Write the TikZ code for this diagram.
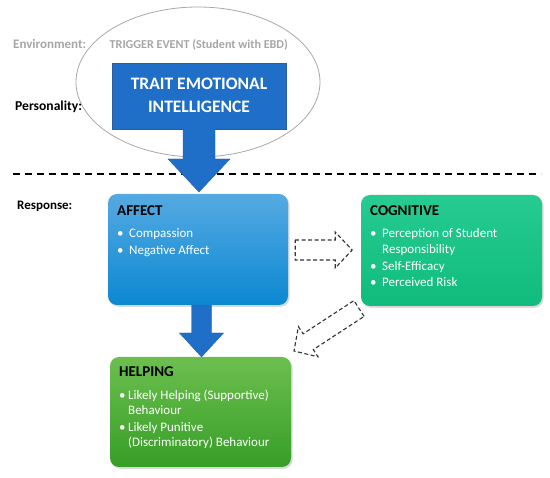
\documentclass[tikz,border=0pt]{standalone}
\usepackage{fontspec}
\setmainfont{Carlito}
\usetikzlibrary{shadows,calc}
\definecolor{envgray}{HTML}{A6A6A6}
\definecolor{ellgray}{HTML}{A8A8A8}
\definecolor{teiblue}{HTML}{1F6FC9}
\definecolor{teiedge}{HTML}{2A5E9E}
\definecolor{afftop}{HTML}{55AAE2}
\definecolor{affbot}{HTML}{0B88D2}
\definecolor{cogtop}{HTML}{26CB92}
\definecolor{cogbot}{HTML}{10BB7C}
\definecolor{heltop}{HTML}{6CBF4E}
\definecolor{helbot}{HTML}{379E27}
\definecolor{dashgray}{HTML}{333333}
\tikzset{
  lbl/.style={font=\bfseries\fontsize{13}{15}\selectfont, anchor=base west, inner sep=0pt},
  box/.style={rounded corners=9pt, inner sep=0pt, drop shadow={opacity=0.3, shadow xshift=1.5pt, shadow yshift=-1.8pt}},
  ttl/.style={font=\bfseries\fontsize{15}{17}\selectfont, anchor=base west, inner sep=0pt},
  itm/.style={font=\fontsize{13}{15}\selectfont, text=white, anchor=base west, inner sep=0pt},
  blk/.style={fill=teiblue, draw=teiedge, line width=0.4pt},
  dsh/.style={draw=dashgray, line width=1.1pt, dash pattern=on 4pt off 2.5pt, line join=miter}
}
\begin{document}
\begin{tikzpicture}[x=1pt,y=-1pt]
\useasboundingbox (0,0) rectangle (550,478);
% ellipse
\draw[ellgray, line width=0.8pt] (198,82) ellipse [x radius=122, y radius=75];
% labels
\node[lbl, text=envgray] (env) at (13,49) {Environment:};
\node[lbl, text=envgray, font=\bfseries\fontsize{12.1}{14}\selectfont] (trig) at (109.5,49) {TRIGGER EVENT (Student with EBD)};
\node[lbl, font=\bfseries\fontsize{13.6}{15}\selectfont] (pers) at (15,111) {Personality:};
\node[lbl] (resp) at (17,210) {Response:};
% dashed separator
\draw[black, line width=1.6pt, dash pattern=on 7pt off 5pt] (13,174) -- (541,174);
% boxes
\node[box, minimum width=180pt, minimum height=111pt, top color=afftop, bottom color=affbot] (affect) at (198,249.5) {};
\node[box, minimum width=181pt, minimum height=111pt, top color=cogtop, bottom color=cogbot] (cog) at (451.5,250.5) {};
\node[box, minimum width=181pt, minimum height=110pt, top color=heltop, bottom color=helbot] (help) at (200.5,412) {};
% TEI block
\node[blk, minimum width=174pt, minimum height=66pt, inner sep=0pt] (tei) at (199,96) {};
\coordinate (t1) at (199,192);
\fill[teiblue] ($(t1)+(-16,-63.5)$) -- ($(t1)+(16,-63.5)$) -- ($(t1)+(16,-33)$) -- ($(t1)+(31,-33)$) -- (t1) -- ($(t1)+(-31,-33)$) -- ($(t1)+(-16,-33)$) -- cycle;
\draw[teiedge, line width=0.4pt] ($(t1)+(-16,-63)$) -- ($(t1)+(-16,-33)$) -- ($(t1)+(-31,-33)$) -- (t1) -- ($(t1)+(31,-33)$) -- ($(t1)+(16,-33)$) -- ($(t1)+(16,-63)$);
\node[font=\bfseries\fontsize{17.5}{20}\selectfont, text=white, anchor=base, inner sep=0pt] (tei1) at (199,89.5) {TRAIT EMOTIONAL};
\node[font=\bfseries\fontsize{17.5}{20}\selectfont, text=white, anchor=base, inner sep=0pt] (tei2) at (199,113) {INTELLIGENCE};
% affect -> helping arrow
\coordinate (t2) at (201.5,357);
\fill[teiblue] ($(t2)+(-10,-52)$) -- ($(t2)+(10,-52)$) -- ($(t2)+(10,-24)$) -- ($(t2)+(22,-24)$) -- (t2) -- ($(t2)+(-22,-24)$) -- ($(t2)+(-10,-24)$) -- cycle;
\draw[teiedge, line width=0.4pt] ($(t2)+(-10,-52)$) -- ($(t2)+(-10,-24)$) -- ($(t2)+(-22,-24)$) -- (t2) -- ($(t2)+(22,-24)$) -- ($(t2)+(10,-24)$) -- ($(t2)+(10,-52)$);
% affect -> cognitive dashed arrow
\coordinate (ra) at ($(affect.east)+(7,0.5)$);
\draw[dsh] ($(ra)+(0,-10)$) -- ($(ra)+(40,-10)$) -- ($(ra)+(40,-18)$) -- ($(ra)+(57,0)$) -- ($(ra)+(40,18)$) -- ($(ra)+(40,10)$) -- ($(ra)+(0,10)$) -- cycle;
% cognitive -> helping dashed arrow
\coordinate (da) at (359,308.5);
\draw[dsh] ($(da)+(5.1,7.9)$) -- ($(da)+(-5.1,-7.9)$) -- ($(da)+(-55.9,25.3)$) -- ($(da)+(-60.6,18.1)$) -- ($(da)+(-65,42.5)$) -- ($(da)+(-41,48.3)$) -- ($(da)+(-45.7,41.1)$) -- cycle;
% AFFECT text
\node[ttl] (afft) at (117,216) {AFFECT};
\node[itm] (ab1) at (117,238) {\textbullet};
\node[itm] (a1) at (129,238) {Compassion};
\node[itm] (ab2) at (117,255) {\textbullet};
\node[itm] (a2) at (129,255) {Negative Affect};
% COGNITIVE text
\node[ttl] (cogt) at (370,216) {COGNITIVE};
\node[itm] (cb1) at (370,238) {\textbullet};
\node[itm] (c1) at (382,238) {Perception of Student};
\node[itm] (c1b) at (382,253.5) {Responsibility};
\node[itm] (cb2) at (370,270.5) {\textbullet};
\node[itm] (c2) at (382,270.5) {Self-Efficacy};
\node[itm] (cb3) at (370,287) {\textbullet};
\node[itm] (c3) at (382,287) {Perceived Risk};
% HELPING text
\node[ttl] (helt) at (119,377) {HELPING};
\node[itm] (hb1) at (119,400) {\textbullet};
\node[itm] (h1) at (128,400) {Likely Helping (Supportive)};
\node[itm] (h1b) at (128,415) {Behaviour};
\node[itm] (hb2) at (119,432) {\textbullet};
\node[itm] (h2) at (128,432) {Likely Punitive};
\node[itm] (h2b) at (128,447) {(Discriminatory) Behaviour};
\end{tikzpicture}
\end{document}
